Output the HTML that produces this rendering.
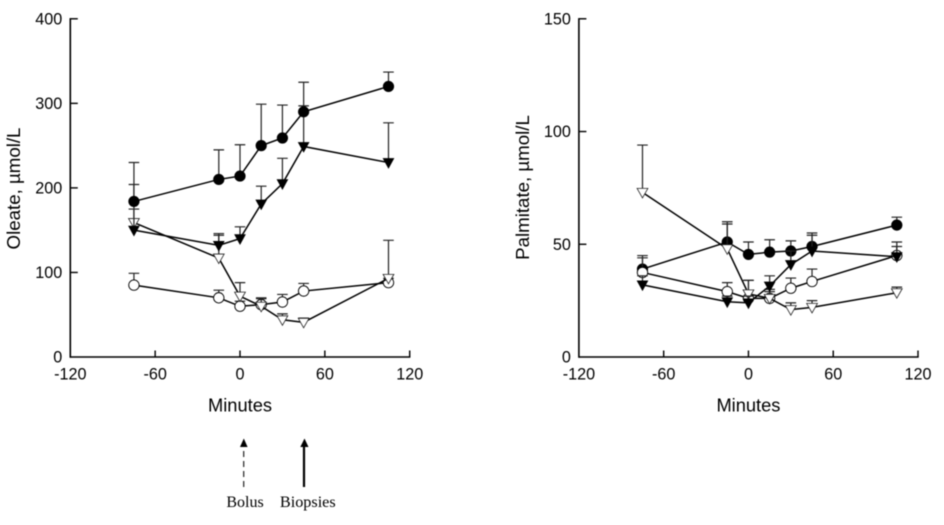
<!DOCTYPE html>
<html lang="en">
<head>
<meta charset="utf-8">
<title>Oleate and Palmitate over time</title>
<style>
html,body{margin:0;padding:0;background:#fff;}
svg{display:block;filter:blur(0.4px);}
text{font-family:"Liberation Sans",Arial,sans-serif;fill:#000;}
.serif{font-family:"Liberation Serif","Times New Roman",serif;}
</style>
</head>
<body>
<svg id="figure" width="944" height="525" viewBox="0 0 944 525" xmlns="http://www.w3.org/2000/svg">
  <g id="oleate-panel"></g>
  <g id="palmitate-panel"></g>
  <g>
    <line x1="243.7" y1="487" x2="243.7" y2="446" stroke="#222" stroke-width="1.2" stroke-dasharray="6 4"/>
    <polygon points="243.8,438.5 240,447 247.6,447" fill="#000"/>
    <text class="serif" x="245" y="507" font-size="16" text-anchor="middle">Bolus</text>
  </g>
  <g>
    <line x1="304" y1="487" x2="304" y2="445" stroke="#000" stroke-width="2.2"/>
    <polygon points="304.5,438.5 300.3,447 308.5,447" fill="#000"/>
    <text class="serif" x="307.8" y="507" font-size="16.2" text-anchor="middle">Biopsies</text>
  </g>
</svg>
<script>
const minutes = [-75, -15, 0, 15, 30, 45, 105];
const xTicks = [-120, -60, 0, 60, 120];
const oleateTicks = [0, 100, 200, 300, 400];
const palmitateTicks = [0, 50, 100, 150];

const oleateFilledCircle = [184, 210, 214, 250, 259, 290, 320];
const oleateFilledCircleTop = [230, 245, 251, 299, 298, 325, 337];
const oleateFilledTriangle = [150, 132, 140, 181, 205, 249, 230];
const oleateFilledTriangleTop = [175, 146, 154, 202, 235, 297, 277];
const oleateOpenTriangle = [159, 117, 72, 60, 44, 41, 93];
const oleateOpenTriangleTop = [204, 144, 88, 70, 51, 46, 138];
const oleateOpenCircle = [85, 70, 60, 62, 65, 78, 88];
const oleateOpenCircleTop = [99, 79, 66, 69, 74, 87, 93];

const palmitateFilledCircle = [39, 51, 45.5, 46.5, 47, 49, 58.5];
const palmitateFilledCircleTop = [45, 60, 51, 52, 51.5, 55, 62];
const palmitateFilledTriangle = [32, 24.5, 24, 31.5, 41, 47, 44.5];
const palmitateFilledTriangleTop = [36, 27, 27, 36, 47, 54, 49];
const palmitateOpenTriangle = [73, 48, 28, 26, 21, 22, 28.5];
const palmitateOpenTriangleTop = [94, 59, 34, 30, 24, 25, 31];
const palmitateOpenCircle = [37.5, 29, 26, 26, 30.5, 33.5, 45];
const palmitateOpenCircleTop = [44, 33, 34, 29, 35, 39, 51];

const NS = 'http://www.w3.org/2000/svg';

function make(parent, tag, props, text) {
  const el = document.createElementNS(NS, tag);
  for (const k in props) el.setAttribute(k, props[k]);
  if (text !== undefined) el.textContent = text;
  parent.appendChild(el);
  return el;
}

function drawPanel(cfg) {
  const root = document.getElementById(cfg.id);
  const xScale = v => cfg.left + (v + 120) / 240 * (cfg.right - cfg.left);
  const yScale = v => cfg.bottom - v / cfg.yMax * (cfg.bottom - cfg.top);

  const axes = make(root, 'g', {});
  
  

  const yAxis = make(axes, 'line', {x1: cfg.left, x2: cfg.left, y1: cfg.top - 0.7, y2: cfg.bottom + 0.8, stroke: '#000', 'stroke-width': 1.6});
  
  

  const xAxis = make(axes, 'line', {x1: cfg.left, x2: cfg.right + 0.7, y1: cfg.bottom, y2: cfg.bottom, stroke: '#000', 'stroke-width': 1.6});
  
  

  cfg.yTicks.forEach(t => {
    const y = yScale(t);
    if (t !== 0) {
      const tick = make(axes, 'line', {x1: cfg.left, x2: cfg.left + 7.5, y1: y, y2: y, stroke: '#000', 'stroke-width': 1.4});
      
      
    }
    const label = make(axes, 'text', {x: cfg.left - 8, y: y + 5.6, 'font-size': 16.2, 'text-anchor': 'end'}, String(t));
    
    
  });

  xTicks.forEach(t => {
    const x = xScale(t);
    if (t !== -120) {
      const tick = make(axes, 'line', {x1: x, x2: x, y1: cfg.bottom, y2: cfg.bottom - 6.5, stroke: '#000', 'stroke-width': 1.4});
      
      
    }
    const label = make(axes, 'text', {x: x, y: cfg.bottom + 22.5, 'font-size': 16.2, 'text-anchor': 'middle'}, String(t));
    
    
  });

  const xTitle = make(axes, 'text', {x: xScale(0), y: cfg.bottom + 54.5, 'font-size': 18.3, 'text-anchor': 'middle'}, 'Minutes');
  
  

  const yTitle = make(axes, 'text', {x: 0, y: 0, 'font-size': 18.7, 'text-anchor': 'middle', transform: 'translate(' + cfg.titleX + ',' + cfg.titleY + ') rotate(-90)'}, cfg.title);
  
  

  cfg.series.forEach(s => {
    const group = make(root, 'g', {});
    
    

    minutes.forEach((m, i) => {
      const x = xScale(m);
      const bar = make(group, 'path', {d: 'M' + x + ' ' + yScale(s.values[i]) + 'V' + yScale(s.tops[i]) + 'm-5.3 0h10.6', fill: 'none', stroke: '#222', 'stroke-width': 1.2});
      
      
    });

    const pts = minutes.map((m, i) => xScale(m) + ',' + yScale(s.values[i])).join(' ');
    const line = make(group, 'polyline', {points: pts, fill: 'none', stroke: '#000', 'stroke-width': 1.5});
    
    

    minutes.forEach((m, i) => {
      const x = xScale(m), y = yScale(s.values[i]);
      const fill = s.filled ? '#000' : '#fff';
      let mark;
      if (s.shape === 'circle') {
        mark = make(group, 'circle', {cx: x, cy: y, r: s.filled ? 5.3 : 5.2, fill: fill, stroke: '#000', 'stroke-width': s.filled ? 0.6 : 0.9});
      } else {
        const r = s.filled ? 5.2 : 5.4;
        mark = make(group, 'polygon', {points: (x - r) + ',' + (y - 4) + ' ' + (x + r) + ',' + (y - 4) + ' ' + x + ',' + (y + 5.5), fill: fill, stroke: s.filled ? '#000' : '#222', 'stroke-width': 0.8});
      }
      
      
    });
  });
}

drawPanel({
  id: 'oleate-panel', prefix: 'oleate', title: 'Oleate, µmol/L',
  left: 70.3, right: 409.7, top: 18.8, bottom: 357, yMax: 400,
  yTicks: oleateTicks, titleX: 20, titleY: 188.5,
  series: [
    {name: 'open-circle', shape: 'circle', filled: false, values: oleateOpenCircle, tops: oleateOpenCircleTop},
    {name: 'open-triangle', shape: 'triangle', filled: false, values: oleateOpenTriangle, tops: oleateOpenTriangleTop},
    {name: 'filled-triangle', shape: 'triangle', filled: true, values: oleateFilledTriangle, tops: oleateFilledTriangleTop},
    {name: 'filled-circle', shape: 'circle', filled: true, values: oleateFilledCircle, tops: oleateFilledCircleTop}
  ]
});

drawPanel({
  id: 'palmitate-panel', prefix: 'palmitate', title: 'Palmitate, µmol/L',
  left: 578.9, right: 918, top: 18.8, bottom: 357, yMax: 150,
  yTicks: palmitateTicks, titleX: 529, titleY: 187.5,
  series: [
    {name: 'filled-circle', shape: 'circle', filled: true, values: palmitateFilledCircle, tops: palmitateFilledCircleTop},
    {name: 'open-circle', shape: 'circle', filled: false, values: palmitateOpenCircle, tops: palmitateOpenCircleTop},
    {name: 'open-triangle', shape: 'triangle', filled: false, values: palmitateOpenTriangle, tops: palmitateOpenTriangleTop},
    {name: 'filled-triangle', shape: 'triangle', filled: true, values: palmitateFilledTriangle, tops: palmitateFilledTriangleTop}
  ]
});
</script>
</body>
</html>
